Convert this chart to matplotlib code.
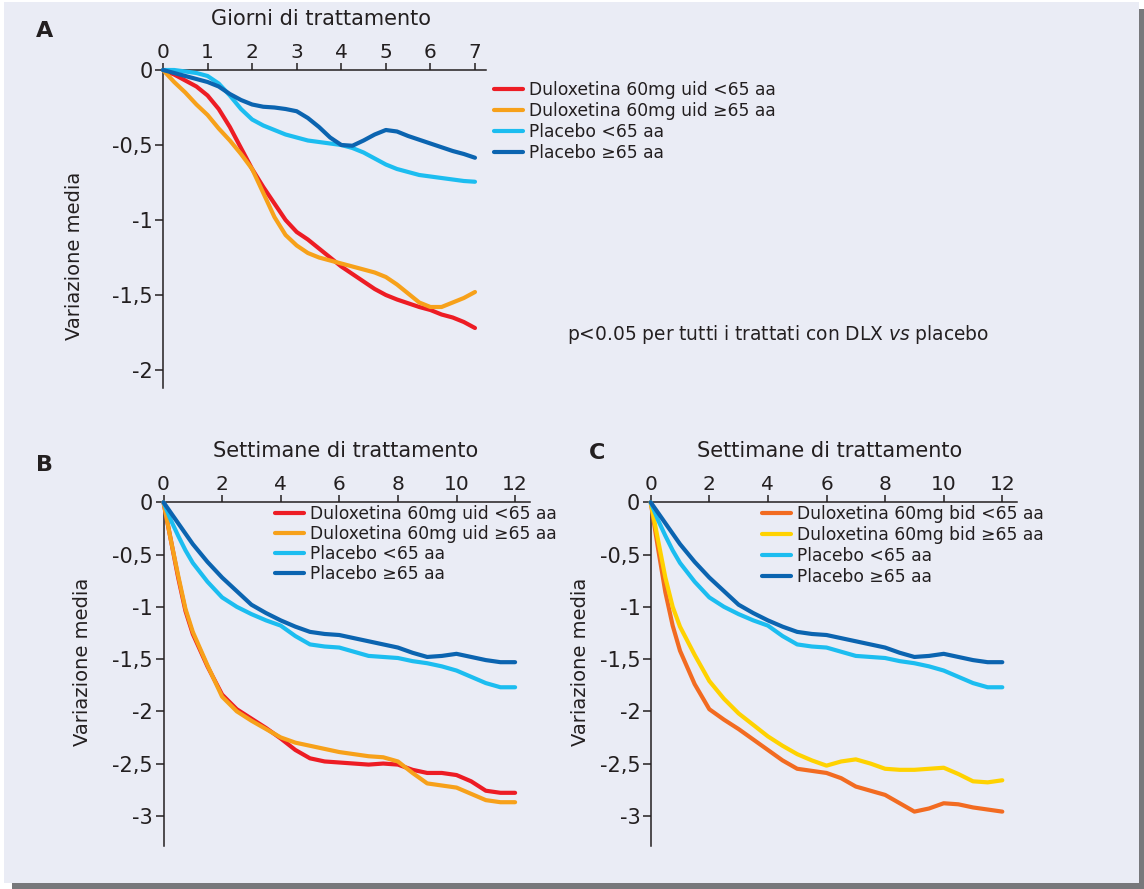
import matplotlib
matplotlib.use("Agg")
import matplotlib.pyplot as plt
from matplotlib.patches import Rectangle

# ---------------- data ----------------
days = [0, 0.25, 0.5, 0.75, 1, 1.25, 1.5, 1.75, 2, 2.25, 2.5, 2.75, 3, 3.25, 3.5, 3.75,
        4, 4.25, 4.5, 4.75, 5, 5.25, 5.5, 5.75, 6, 6.25, 6.5, 6.75, 7]
a_dlx_young = [0, -0.03, -0.07, -0.11, -0.17, -0.26, -0.38, -0.52, -0.66, -0.78, -0.89, -1.00,
               -1.08, -1.13, -1.19, -1.25, -1.31, -1.36, -1.41, -1.46, -1.50, -1.53, -1.555,
               -1.58, -1.60, -1.63, -1.65, -1.68, -1.72]
a_dlx_old = [0, -0.08, -0.15, -0.23, -0.30, -0.39, -0.47, -0.56, -0.66, -0.82, -0.98, -1.10,
             -1.17, -1.22, -1.25, -1.27, -1.29, -1.31, -1.33, -1.35, -1.38, -1.43, -1.49,
             -1.55, -1.58, -1.58, -1.55, -1.52, -1.48]
a_pbo_young = [0, 0, -0.01, -0.02, -0.04, -0.09, -0.17, -0.26, -0.33, -0.37, -0.40, -0.43,
               -0.45, -0.47, -0.48, -0.49, -0.50, -0.52, -0.55, -0.59, -0.63, -0.66, -0.68,
               -0.70, -0.71, -0.72, -0.73, -0.74, -0.745]
a_pbo_old = [0, -0.02, -0.04, -0.06, -0.08, -0.11, -0.16, -0.20, -0.23, -0.245, -0.25, -0.26,
             -0.275, -0.32, -0.38, -0.45, -0.50, -0.505, -0.47, -0.43, -0.40, -0.41, -0.44,
             -0.465, -0.49, -0.515, -0.54, -0.56, -0.585]

weeks = [0, 0.25, 0.5, 0.75, 1, 1.5, 2, 2.5, 3, 3.5, 4, 4.5, 5, 5.5, 6, 6.5, 7, 7.5, 8, 8.5, 9, 9.5, 10, 10.5, 11, 11.5, 12]
b_dlx_young = [0, -0.36, -0.72, -1.04, -1.26, -1.57, -1.84, -1.98, -2.07, -2.16, -2.26, -2.37, -2.45, -2.48, -2.49, -2.50, -2.51, -2.50, -2.51, -2.56, -2.59, -2.59, -2.61, -2.67, -2.76, -2.78, -2.78]
b_dlx_old = [0, -0.36, -0.70, -1.02, -1.24, -1.56, -1.86, -2.00, -2.09, -2.17, -2.25, -2.30, -2.33, -2.36, -2.39, -2.41, -2.43, -2.44, -2.48, -2.59, -2.69, -2.71, -2.73, -2.79, -2.85, -2.87, -2.87]
pbo_young = [0, -0.17, -0.32, -0.46, -0.58, -0.76, -0.91, -1.00, -1.07, -1.13, -1.18, -1.28, -1.36, -1.38, -1.39, -1.43, -1.47, -1.48, -1.49, -1.52, -1.54, -1.57, -1.61, -1.67, -1.73, -1.77, -1.77]
pbo_old = [0, -0.10, -0.20, -0.30, -0.40, -0.57, -0.72, -0.85, -0.98, -1.06, -1.13, -1.19, -1.24, -1.26, -1.27, -1.30, -1.33, -1.36, -1.39, -1.44, -1.48, -1.47, -1.45, -1.48, -1.51, -1.53, -1.53]
c_dlx_young = [0, -0.44, -0.86, -1.18, -1.42, -1.74, -1.98, -2.08, -2.17, -2.27, -2.37, -2.47, -2.55, -2.57, -2.59, -2.64, -2.72, -2.76, -2.80, -2.88, -2.96, -2.93, -2.88, -2.89, -2.92, -2.94, -2.96]
c_dlx_old = [0, -0.36, -0.72, -1.00, -1.19, -1.46, -1.71, -1.88, -2.02, -2.13, -2.24, -2.33, -2.41, -2.47, -2.52, -2.48, -2.46, -2.50, -2.55, -2.56, -2.56, -2.55, -2.54, -2.60, -2.67, -2.68, -2.66]

labels_ab = ["Duloxetina 60mg uid <65 aa", "Duloxetina 60mg uid \u226565 aa", "Placebo <65 aa", "Placebo \u226565 aa"]
labels_c = ["Duloxetina 60mg bid <65 aa", "Duloxetina 60mg bid \u226565 aa", "Placebo <65 aa", "Placebo \u226565 aa"]

a_xticks = [0, 1, 2, 3, 4, 5, 6, 7]
a_yticks = [0, -0.5, -1, -1.5, -2]
a_yticklabels = ["0", "-0,5", "-1", "-1,5", "-2"]
bc_xticks = [0, 2, 4, 6, 8, 10, 12]
bc_yticks = [0, -0.5, -1, -1.5, -2, -2.5, -3]
bc_yticklabels = ["0", "-0,5", "-1", "-1,5", "-2", "-2,5", "-3"]

# ---------------- style ----------------
RED = "#ed1c24"
ORANGE = "#f7a11a"
LBLUE = "#1cbdf0"
DBLUE = "#0b64b0"
C_ORANGE = "#f26b21"
YELLOW = "#ffd200"
BG = "#eaecf5"
SHADOW = "#77787b"
TXT = "#231f20"

plt.rcParams["font.family"] = ["DejaVu Sans"]
plt.rcParams["mathtext.fontset"] = "dejavusans"

W, H = 1144, 889
fig = plt.figure(figsize=(W / 100, H / 100), dpi=100)
fig.patch.set_facecolor("white")


def prect(x0, y0, x1, y1, color):
    fig.add_artist(Rectangle((x0 / W, 1 - y1 / H), (x1 - x0) / W, (y1 - y0) / H,
                             transform=fig.transFigure, facecolor=color,
                             edgecolor="none", zorder=-10))


prect(1139, 9, 1144, 889, SHADOW)
prect(12, 883, 1144, 889, SHADOW)
prect(4, 1.5, 1139, 883, BG)


def px_axes(left, top, width, height):
    ax = fig.add_axes([left / W, 1 - (top + height) / H, width / W, height / H])
    ax.set_facecolor("none")
    for s in ("bottom", "right"):
        ax.spines[s].set_visible(False)
    for s in ("top", "left"):
        ax.spines[s].set_color(TXT)
        ax.spines[s].set_linewidth(1.1)
    ax.xaxis.tick_top()
    ax.tick_params(axis="x", direction="out", length=5, width=1.1, color=TXT,
                   labelsize=14.5, labelcolor=TXT, pad=1)
    ax.tick_params(axis="y", direction="out", length=6, width=1.1, color=TXT,
                   labelsize=15, labelcolor=TXT, pad=1.5)
    return ax


LW = 3.0


def curves(ax, x, series, colors, labels):
    handles = []
    for y, c, lab in zip(series, colors, labels):
        h, = ax.plot(x, y, color=c, lw=LW, solid_capstyle="round",
                     solid_joinstyle="round", clip_on=False, label=lab, zorder=3)
        handles.append(h)
    return handles


def legend(ax, handles, labels, xpx, ypx, spacing):
    ax.legend(handles, labels, loc="upper left",
              bbox_to_anchor=(xpx / W, 1 - ypx / H), bbox_transform=fig.transFigure,
              frameon=False, borderpad=0, borderaxespad=0, handlelength=1.7,
              handletextpad=0.35, labelspacing=spacing, fontsize=12.3,
              labelcolor=TXT)


# ---------------- Panel A ----------------
axA = px_axes(163, 70, 7.25 * 44.57, 318)
axA.set_xlim(0, 7.25)
axA.set_ylim(-2.12, 0)
hA = curves(axA, days, [a_dlx_young, a_dlx_old, a_pbo_young, a_pbo_old],
            [RED, ORANGE, LBLUE, DBLUE], labels_ab)
axA.set_xticks(a_xticks)
axA.set_xticklabels([str(t) for t in a_xticks])
axA.set_yticks(a_yticks)
axA.set_yticklabels(a_yticklabels)
legend(axA, hA, labels_ab, 494, 81, 0.18)

# ---------------- Panel B ----------------
UNIT = 104.5
axB = px_axes(163.5, 502.3, 12.5 * 29.3, 3.29 * UNIT)
axB.set_xlim(0, 12.5)
axB.set_ylim(-3.29, 0)
hB = curves(axB, weeks, [b_dlx_young, b_dlx_old, pbo_young, pbo_old],
            [RED, ORANGE, LBLUE, DBLUE], labels_ab)
axB.set_xticks(bc_xticks)
axB.set_xticklabels([str(t) for t in bc_xticks])
axB.set_yticks(bc_yticks)
axB.set_yticklabels(bc_yticklabels)
legend(axB, hB, labels_ab, 275, 505, 0.12)

# ---------------- Panel C ----------------
axC = px_axes(650.7, 502.3, 12.5 * 29.3, 3.29 * UNIT)
axC.set_xlim(0, 12.5)
axC.set_ylim(-3.29, 0)
hC = curves(axC, weeks, [c_dlx_young, c_dlx_old, pbo_young, pbo_old],
            [C_ORANGE, YELLOW, LBLUE, DBLUE], labels_c)
axC.set_xticks(bc_xticks)
axC.set_xticklabels([str(t) for t in bc_xticks])
axC.set_yticks(bc_yticks)
axC.set_yticklabels(bc_yticklabels)
legend(axC, hC, labels_c, 762, 505, 0.18)


# ---------------- texts ----------------
def ptext(x, y, s, **kw):
    fig.text(x / W, 1 - y / H, s, color=TXT, ha="center", va="center", **kw)


ptext(45, 31, "A", fontsize=16, fontweight="bold")
ptext(45, 465, "B", fontsize=16, fontweight="bold")
ptext(597, 453, "C", fontsize=16, fontweight="bold")

ptext(321, 19, "Giorni di trattamento", fontsize=15)
ptext(346, 451, "Settimane di trattamento", fontsize=15)
ptext(830, 451, "Settimane di trattamento", fontsize=15)

ptext(75, 256, "Variazione media", fontsize=14, rotation=90)
ptext(82, 662, "Variazione media", fontsize=14, rotation=90)
ptext(580, 662, "Variazione media", fontsize=14, rotation=90)

ptext(778, 335, r"p<0.05 per tutti i trattati con DLX $\mathit{vs}$ placebo", fontsize=13.4)

fig.savefig("out.png", dpi=100, facecolor=fig.get_facecolor())
